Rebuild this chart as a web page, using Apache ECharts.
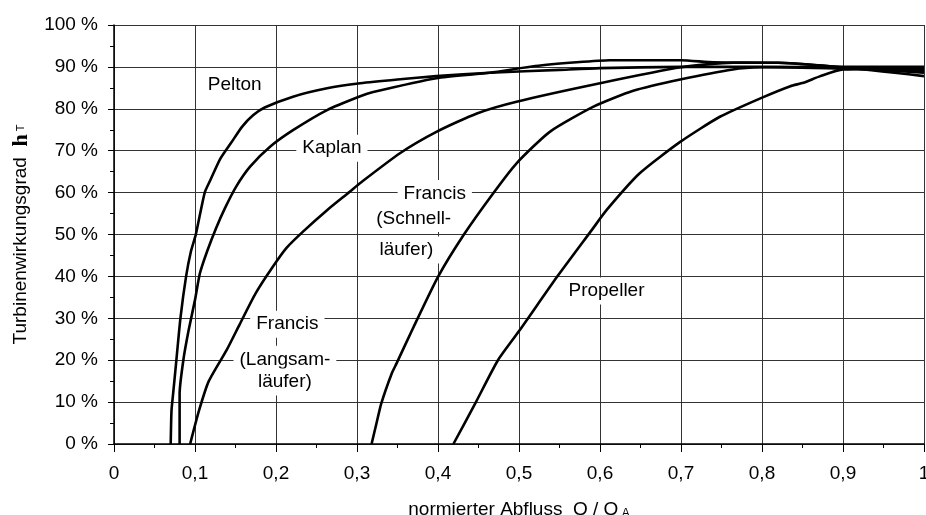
<!DOCTYPE html>
<html>
<head>
<meta charset="utf-8">
<title>Turbinenwirkungsgrad</title>
<script src="https://cdn.jsdelivr.net/npm/echarts@6/dist/echarts.min.js"></script>
<style>
  html, body { margin: 0; padding: 0; background: #fff; }
  #main { width: 926px; height: 515px; }
</style>
</head>
<body>
<div id="main"></div>
<script>
// Wirkungsgradkurven (x = Q/QA, y = Wirkungsgrad in %)
var peltonX = [0.070, 0.071, 0.073, 0.0765, 0.082, 0.089, 0.095, 0.101, 0.112, 0.119, 0.131, 0.145, 0.158, 0.172, 0.186, 0.221, 0.263, 0.304, 0.35, 0.398, 0.464, 0.55, 0.6, 0.7, 0.8, 0.9, 1.0];
var peltonY = [0, 8, 12, 19, 30, 40, 46, 50, 60, 63, 68, 72, 75.7, 78.5, 80.3, 82.9, 84.9, 86.1, 87, 87.8, 88.6, 89.3, 89.7, 90, 90, 89.6, 89.0];

var kaplanX = [0.081, 0.081, 0.0856, 0.092, 0.1, 0.106, 0.115, 0.126, 0.137, 0.151, 0.168, 0.193, 0.221, 0.263, 0.304, 0.32, 0.398, 0.464, 0.52, 0.571, 0.612, 0.7, 0.74, 0.82, 0.9, 1.0];
var kaplanY = [0, 12, 20, 27, 34.4, 40.7, 46, 51.5, 56.3, 61.5, 66.2, 71, 74.9, 79.7, 83, 84, 87.3, 88.6, 90.2, 91.1, 91.6, 91.6, 91.1, 91, 89.9, 87.8];

var langsamX = [0.094, 0.105, 0.117, 0.139, 0.155, 0.175, 0.195, 0.213, 0.234, 0.263, 0.291, 0.304, 0.353, 0.398, 0.448, 0.497, 0.6, 0.7, 0.764, 0.82, 0.9, 1.0];
var langsamY = [0, 8, 15, 22.4, 28.5, 36, 42, 46.8, 50.8, 55.8, 60.2, 62.3, 69.4, 74.5, 78.9, 81.7, 86.1, 89.9, 91, 91, 89.9, 88.6];

var schnellX = [0.318, 0.324, 0.33, 0.343, 0.349, 0.37, 0.4, 0.432, 0.468, 0.497, 0.538, 0.592, 0.641, 0.699, 0.764, 0.8, 0.9, 1.0];
var schnellY = [0, 4.9, 9.7, 16.9, 19.3, 28, 39.9, 50, 59.8, 67, 74.5, 80.5, 84.3, 87, 89.4, 89.9, 90, 90.0];

var propellerX = [0.419, 0.446, 0.474, 0.501, 0.547, 0.59, 0.608, 0.649, 0.699, 0.748, 0.798, 0.835, 0.851, 0.872, 0.9, 1.0];
var propellerY = [0, 9.7, 20, 27.2, 39.9, 51.1, 55.8, 64.6, 72.1, 78.1, 82.5, 85.4, 86.2, 87.8, 89.4, 89.6];

// Beschriftungen im Diagramm (Lage in Achsenwerten)
var labelText = ['Pelton', 'Kaplan', 'Francis', '(Schnell-', 'läufer)', 'Francis', '(Langsam-', 'läufer)', 'Propeller'];
var labelX = [0.149, 0.269, 0.396, 0.370, 0.361, 0.214, 0.211, 0.211, 0.608];
var labelY = [85.8, 70.6, 59.8, 53.8, 46.3, 28.6, 20.2, 14.8, 36.5];

var FONT = '"Liberation Sans", Arial, sans-serif';

function pairs(xs, ys) {
	return xs.map(function (x, i) { return [x, ys[i]]; });
}

function curve(name, xs, ys) {
	return {
		name: name,
		type: 'line',
		data: pairs(xs, ys),
		showSymbol: false,
		smooth: 0.2,
		lineStyle: { color: '#000', width: 2.6, join: 'round' },
		z: 3
	};
}

var myChart = echarts.init(document.getElementById('main'));

var option = {
	animation: false,
	textStyle: { fontFamily: FONT, color: '#000' },
	grid: { left: 114, right: 2, top: 25, bottom: 71, outerBoundsMode: 'none', containLabel: false },
	xAxis: {
		type: 'value',
		min: 0,
		max: 1,
		interval: 0.1,
		name: '{n|normierter Abfluss  Q / Q}{s| A}',
		nameLocation: 'middle',
		nameGap: 56,
		nameTextStyle: {
			rich: {
				n: { fontSize: 19, fontFamily: FONT, color: '#000' },
				s: { fontSize: 12, fontFamily: FONT, color: '#000', verticalAlign: 'bottom', padding: [8, 0, 0, 0] }
			}
		},
		axisLine: { onZero: false, lineStyle: { color: '#000', width: 1.5 } },
		axisTick: { inside: false, length: 8, lineStyle: { color: '#000', width: 1 } },
		minorTick: { show: true, splitNumber: 2, length: 4, lineStyle: { color: '#000', width: 1 } },
		splitLine: { show: true, lineStyle: { color: '#333', width: 1 } },
		axisLabel: {
			fontSize: 19,
			color: '#000',
			margin: 20,
			fontFamily: FONT,
			formatter: function (v) { return String(Math.round(v * 10) / 10).replace('.', ','); }
		}
	},
	yAxis: {
		type: 'value',
		min: 0,
		max: 100,
		interval: 10,
		name: '{a|Turbinenwirkungsgrad  }{h|h}{t| T}',
		nameLocation: 'middle',
		nameGap: 82,
		nameRotate: 90,
		nameTextStyle: {
			rich: {
				a: { fontSize: 19, fontFamily: FONT, color: '#000' },
				h: { fontSize: 22, fontFamily: '"Liberation Serif", "DejaVu Serif", serif', fontWeight: 'bold', color: '#000' },
				t: { fontSize: 11, fontFamily: FONT, color: '#000' }
			}
		},
		axisLine: { show: true, lineStyle: { color: '#000', width: 1.5 } },
		axisTick: { show: true, inside: false, length: 6, lineStyle: { color: '#000', width: 1 } },
		minorTick: { show: true, splitNumber: 2, length: 4, lineStyle: { color: '#000', width: 1 } },
		splitLine: { show: true, lineStyle: { color: '#333', width: 1 } },
		axisLabel: {
			fontSize: 19,
			color: '#000',
			margin: 16,
			fontFamily: FONT,
			formatter: '{value} %'
		}
	},
	series: [
		curve('Pelton', peltonX, peltonY),
		curve('Kaplan', kaplanX, kaplanY),
		curve('Francis Langsamläufer', langsamX, langsamY),
		curve('Francis Schnellläufer', schnellX, schnellY),
		curve('Propeller', propellerX, propellerY),
		{
			name: 'Beschriftung',
			type: 'scatter',
			symbolSize: 0,
			z: 5,
			itemStyle: { opacity: 1 },
			data: labelText.map(function (t, i) { return { value: [labelX[i], labelY[i]], name: t }; }),
			label: {
				show: true,
				position: 'inside',
				formatter: function (p) { return p.name; },
				fontSize: 19,
				fontFamily: FONT,
				color: '#000',
				textBorderWidth: 0,
				backgroundColor: '#fff',
				padding: [4, 6]
			}
		}
	]
};

myChart.setOption(option);
</script>
</body>
</html>
